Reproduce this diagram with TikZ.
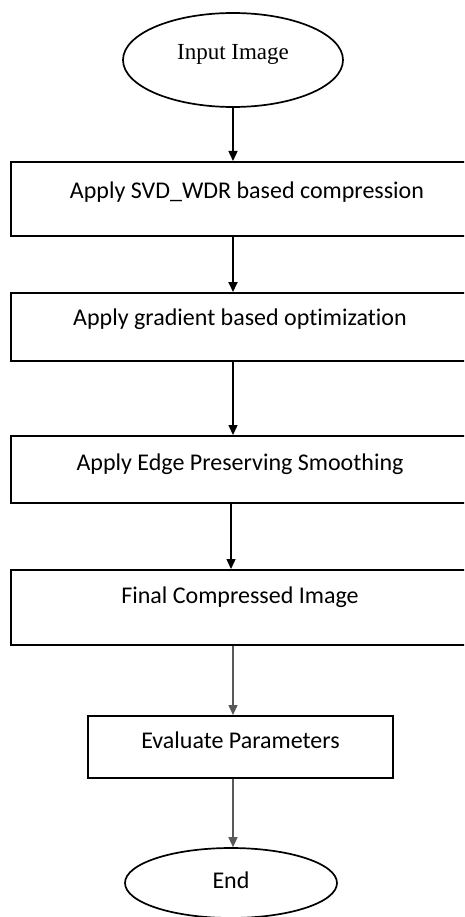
\documentclass[tikz,border=0pt]{standalone}
\usepackage{fontspec}
\setmainfont{Carlito}[Ligatures=NoCommon]
\newfontfamily\serifschrift{Liberation Serif}
\usetikzlibrary{shapes.geometric,arrows.meta}

\begin{document}
\begin{tikzpicture}[x=1pt,y=-1pt,
		box/.style={draw, line width=2pt, rectangle, inner sep=0pt, minimum width=458pt, font=\fontsize{24}{28}\selectfont},
		oval/.style={draw, line width=1.7pt, ellipse, inner sep=0pt},
		pfeil/.style={line width=1.4pt, -{Triangle[width=9pt,length=10pt]}}]
		% Rahmen
		\useasboundingbox (0,0) rectangle (464,917);
		\clip (0,0) rectangle (464,917);

		% Knoten
		\node[oval, minimum width=220pt, minimum height=94pt, text height=8pt, text depth=8pt,
			font=\serifschrift\fontsize{23}{27}\selectfont] (in) at (233,60) {Input Image};
		\node[box, text height=36.5pt, text depth=37.5pt] (svd) at (240,199) {\hspace{14pt}Apply SVD\_WDR based compression};
		\node[box, text height=32.5pt, text depth=35.5pt] (grad) at (240,327) {Apply gradient based optimization};
		\node[box, text height=34.5pt, text depth=32.5pt] (eps) at (240,469.5) {Apply Edge Preserving Smoothing};
		\node[box, text height=33.5pt, text depth=41.5pt] (fin) at (240,607.5) {Final Compressed Image};
		\node[box, minimum width=305pt, text height=32.5pt, text depth=29.5pt] (eval) at (240.5,747) {Evaluate Parameters};
		\node[oval, minimum width=212pt, minimum height=70pt, text height=12pt, text depth=2pt,
			font=\fontsize{24}{28}\selectfont] (end) at (231,883) {End};

		% Pfeile
		\draw[pfeil] (in.south) -- (svd.north -| in);
		\draw[pfeil, line width=1.9pt] (svd.south -| in) -- (grad.north -| in);
		\draw[pfeil] (grad.south -| in) -- (eps.north -| in);
		\draw[pfeil] (eps.south -| end) -- (fin.north -| end);
		\draw[pfeil, black!65] (fin.south -| in) -- (eval.north -| in);
		\draw[pfeil, black!65] (eval.south -| in) -- (end.north -| in);
	\end{tikzpicture}
\end{document}
